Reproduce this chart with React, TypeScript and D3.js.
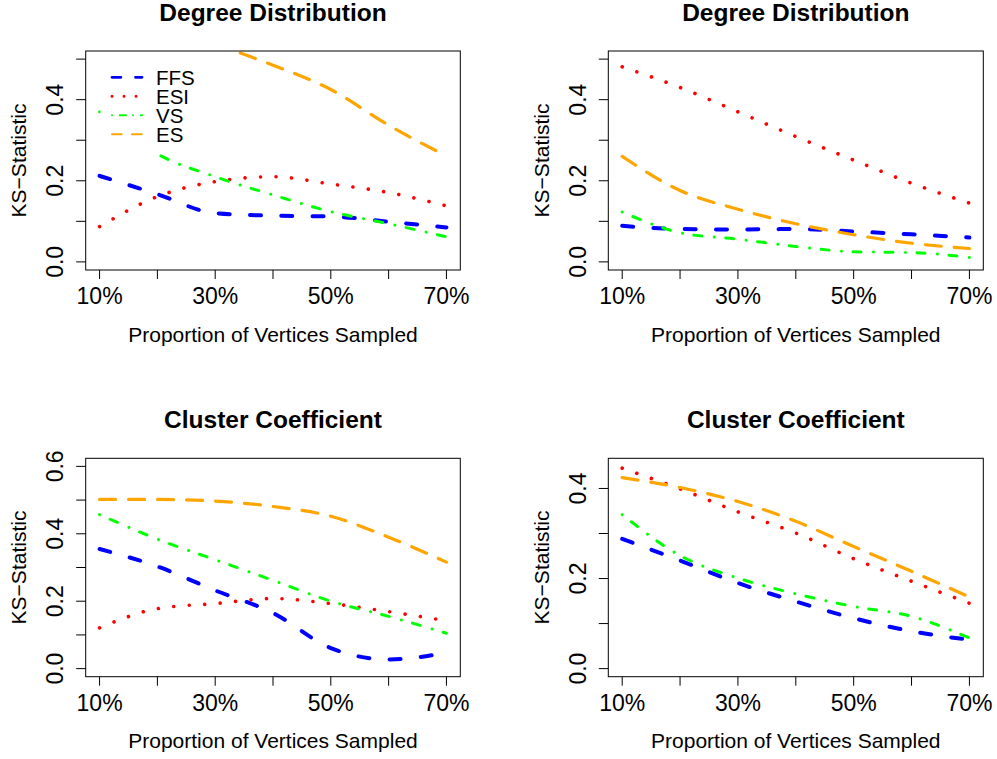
import React from "react";
import * as d3 from "d3";

// ---------- data ----------
const xValues = [10, 20, 30, 40, 50, 60, 70];
const seriesNames = ["FFS", "ESI", "VS", "ES"];
const seriesColors = ["#0000FF", "#FF0000", "#00FF00", "#FFA500"];
const panelTitles = ["Degree Distribution", "Degree Distribution", "Cluster Coefficient", "Cluster Coefficient"];
const xTickValues = [10, 20, 30, 40, 50, 60, 70];
const xTickLabels = ["10%", "", "30%", "", "50%", "", "70%"];
const yMaxes = [0.5, 0.5, 0.6, 0.449];
const yTickSets = [
  [0, 0.1, 0.2, 0.3, 0.4, 0.5],
  [0, 0.1, 0.2, 0.3, 0.4, 0.5],
  [0, 0.1, 0.2, 0.3, 0.4, 0.5, 0.6],
  [0, 0.1, 0.2, 0.3, 0.4],
];
const yLabelled = [0, 0.2, 0.4, 0.6];

// Degree Distribution (left)
const degLeftFFS = [0.212, 0.167, 0.12, 0.114, 0.112, 0.099, 0.085];
const degLeftESI = [0.087, 0.161, 0.198, 0.21, 0.192, 0.171, 0.138];
const degLeftVS = [0.37, 0.266, 0.21, 0.165, 0.124, 0.094, 0.062];
const degLeftES = [0.6, 0.57, 0.535, 0.485, 0.425, 0.337, 0.261];
// Degree Distribution (right)
const degRightFFS = [0.089, 0.081, 0.08, 0.081, 0.075, 0.068, 0.06];
const degRightESI = [0.481, 0.43, 0.37, 0.309, 0.251, 0.194, 0.145];
const degRightVS = [0.123, 0.072, 0.056, 0.038, 0.025, 0.023, 0.011];
const degRightES = [0.26, 0.176, 0.13, 0.094, 0.067, 0.046, 0.033];
// Cluster Coefficient (left)
const cluLeftFFS = [0.355, 0.303, 0.232, 0.165, 0.061, 0.027, 0.047];
const cluLeftESI = [0.121, 0.178, 0.193, 0.208, 0.193, 0.169, 0.142];
const cluLeftVS = [0.457, 0.384, 0.323, 0.262, 0.2, 0.155, 0.105];
const cluLeftES = [0.502, 0.502, 0.497, 0.481, 0.452, 0.39, 0.316];
// Cluster Coefficient (right)
const cluRightFFS = [0.288, 0.24, 0.19, 0.149, 0.112, 0.083, 0.064];
const cluRightESI = [0.445, 0.399, 0.348, 0.301, 0.244, 0.194, 0.145];
const cluRightVS = [0.342, 0.251, 0.201, 0.166, 0.138, 0.116, 0.068];
const cluRightES = [0.424, 0.402, 0.371, 0.327, 0.271, 0.216, 0.159];

const panelData = [
  [degLeftFFS, degLeftESI, degLeftVS, degLeftES],
  [degRightFFS, degRightESI, degRightVS, degRightES],
  [cluLeftFFS, cluLeftESI, cluLeftVS, cluLeftES],
  [cluRightFFS, cluRightESI, cluRightVS, cluRightES],
];

// ---------- styles ----------
const FONT = "'Liberation Sans', Arial, Helvetica, sans-serif";
const boxes = [
  { x0: 85.7, x1: 460.3, y0: 51, y1: 270 },
  { x0: 608.3, x1: 983.3, y0: 51, y1: 270 },
  { x0: 85.7, x1: 460.3, y0: 458.3, y1: 676.7 },
  { x0: 608.3, x1: 983.3, y0: 458.3, y1: 676.7 },
];
const lineWidths = [4, 3.6, 3, 3.2];
const lineDashes = ["11 20.3", "0.01 15.5", "0.01 11.5 8 12.5", "16 13"];
const legendWidths = [2.8, 3, 2, 2];
const legendDashes = ["8.9 14.6", "0.01 12", "0.01 7.7 6.3 7", "9.7 10.3"];

function extend(lo: number, hi: number): [number, number] {
  const s = (hi - lo) * 0.04;
  return [lo - s, hi + s];
}

function Panel({ idx }: { idx: number }) {
  const b = boxes[idx];
  const x = d3.scaleLinear().domain(extend(10, 70)).range([b.x0, b.x1]);
  const y = d3.scaleLinear().domain(extend(0, yMaxes[idx])).range([b.y1, b.y0]);
  const line = d3
    .line<number>()
    .x((_, i) => x(xValues[i]))
    .y((v) => y(v))
    .curve(d3.curveMonotoneX);
  const clipId = `clip${idx}`;
  const cx = (b.x0 + b.x1) / 2;
  const cy = (b.y0 + b.y1) / 2;
  return (
    <g>
      <defs>
        <clipPath id={clipId}>
          <rect x={b.x0} y={b.y0} width={b.x1 - b.x0} height={b.y1 - b.y0} />
        </clipPath>
      </defs>
      <text x={cx} y={b.y0 - 30.3} textAnchor="middle" fontFamily={FONT} fontWeight="bold" fontSize={24.5}>
        {panelTitles[idx]}
      </text>
      <g clipPath={`url(#${clipId})`}>
        {panelData[idx].map((vals, s) => (
          <path
            key={s}
            d={line(vals) || ""}
            fill="none"
            stroke={seriesColors[s]}
            strokeWidth={lineWidths[s]}
            strokeDasharray={lineDashes[s]}
            strokeLinecap="round"
            strokeLinejoin="round"
          />
        ))}
        {idx === 0 && (
          <g>
            <rect x={100.5} y={60} width={101.5} height={92} fill="white" />
            {seriesNames.map((n, s) => {
              const ly = 77.3 + s * 19;
              return (
                <g key={n}>
                  <line
                    x1={112}
                    x2={142}
                    y1={ly}
                    y2={ly}
                    stroke={seriesColors[s]}
                    strokeWidth={legendWidths[s]}
                    strokeDasharray={legendDashes[s]}
                    strokeLinecap="round"
                  />
                  <text x={156} y={ly + 7.6} fontFamily={FONT} fontSize={20.5}>
                    {n}
                  </text>
                </g>
              );
            })}
          </g>
        )}
      </g>
      <rect x={b.x0} y={b.y0} width={b.x1 - b.x0} height={b.y1 - b.y0} fill="none" stroke="black" strokeWidth={1} />
      {xTickValues.map((t, i) => (
        <g key={t}>
          <line x1={x(t)} x2={x(t)} y1={b.y1} y2={b.y1 + 9} stroke="black" strokeWidth={1} />
          {xTickLabels[i] && (
            <text x={x(t)} y={b.y1 + 34.3} textAnchor="middle" fontFamily={FONT} fontSize={23}>
              {xTickLabels[i]}
            </text>
          )}
        </g>
      ))}
      {yTickSets[idx].map((t) => (
        <g key={t}>
          <line x1={b.x0 - 9.5} x2={b.x0} y1={y(t)} y2={y(t)} stroke="black" strokeWidth={1} />
          {yLabelled.some((v) => Math.abs(v - t) < 1e-9) && (
            <text
              transform={`translate(${b.x0 - 22.4},${y(t)}) rotate(-90)`}
              textAnchor="middle"
              fontFamily={FONT}
              fontSize={23}
            >
              {t.toFixed(1)}
            </text>
          )}
        </g>
      ))}
      <text
        transform={`translate(${b.x0 - 59.5},${cy}) rotate(-90)`}
        textAnchor="middle"
        fontFamily={FONT}
        fontSize={21}
      >
        KS−Statistic
      </text>
      <text x={cx} y={b.y1 + 71.7} textAnchor="middle" fontFamily={FONT} fontSize={21}>
        Proportion of Vertices Sampled
      </text>
    </g>
  );
}

export default function App() {
  return (
    <svg
      width={997}
      height={759}
      style={{ position: "absolute", left: 0, top: 0, background: "white" }}
      xmlns="http://www.w3.org/2000/svg"
    >
      <rect x={0} y={0} width={997} height={759} fill="white" />
      {[0, 1, 2, 3].map((i) => (
        <Panel key={i} idx={i} />
      ))}
    </svg>
  );
}
